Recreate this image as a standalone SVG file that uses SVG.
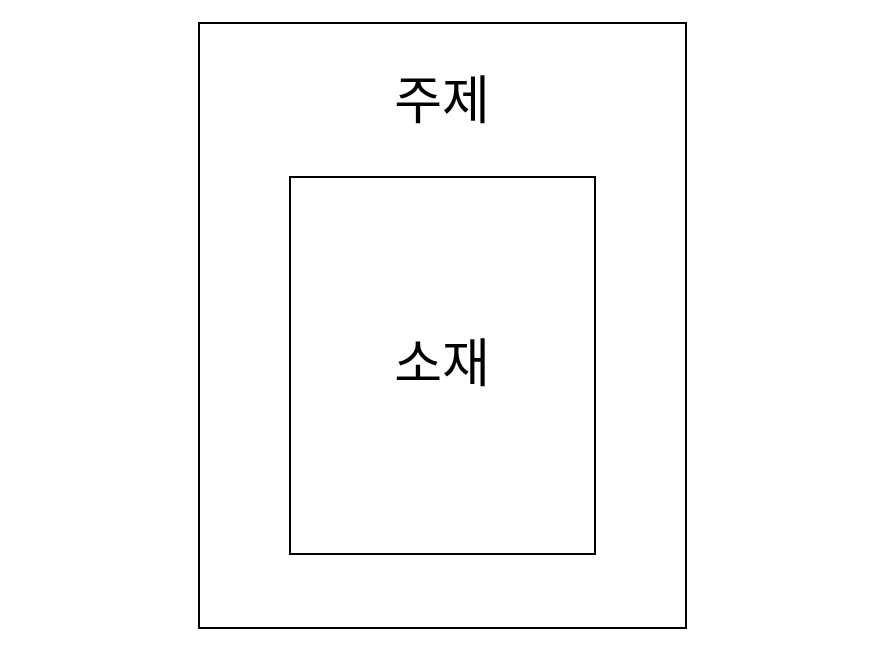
<svg xmlns="http://www.w3.org/2000/svg" width="880" height="664" viewBox="0 0 880 664">
<style>
.box{fill:#fff;stroke:#000;stroke-width:2}
.lbl{font-family:"Liberation Sans","Noto Sans CJK KR",sans-serif;font-size:52px;fill:#000;text-anchor:middle;dominant-baseline:central}
</style>
<rect width="880" height="664" fill="#fff"/>
<g id="topic">
<rect class="box" x="199" y="23" width="487" height="605"/>
<text class="lbl" x="442" y="101">주제</text>
</g>
<g id="material">
<rect class="box" x="290" y="177" width="305" height="377"/>
<text class="lbl" x="442" y="364">소재</text>
</g>
<g id="connectors"></g>
</svg>
